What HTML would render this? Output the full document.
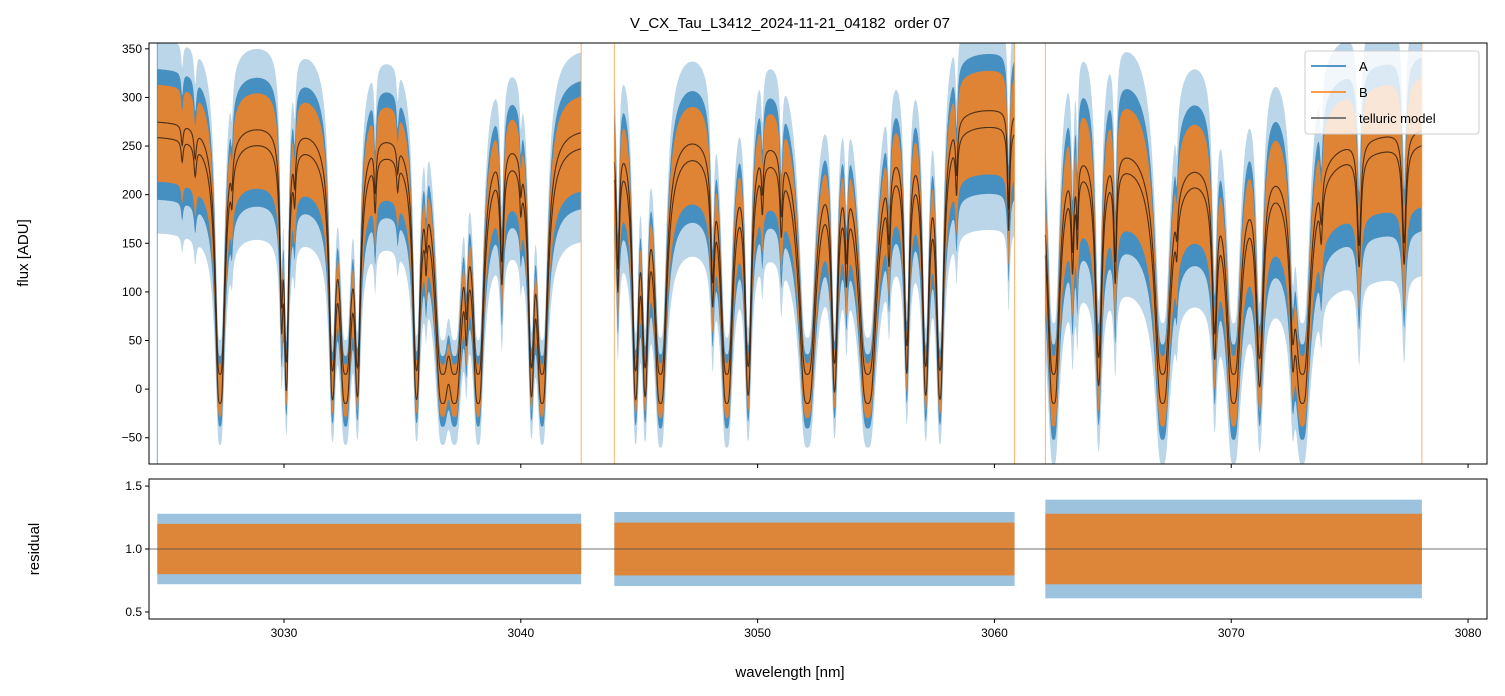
<!DOCTYPE html>
<html><head><meta charset="utf-8">
<style>
body{margin:0;background:#fff;}
svg{display:block;font-family:"Liberation Sans","DejaVu Sans",sans-serif;}
</style></head>
<body>
<svg id="chart" width="1505" height="696" viewBox="0 0 1505 696">
<defs>
<clipPath id="clipTop"><rect x="149" y="43" width="1338" height="421"/></clipPath>
<clipPath id="clipBot"><rect x="149" y="479" width="1338" height="140"/></clipPath>
</defs>
<text x="790" y="28" text-anchor="middle" font-size="15" style="white-space:pre">V_CX_Tau_L3412_2024-11-21_04182  order 07</text>
<g id="topG" clip-path="url(#clipTop)"></g>
<g id="botG" clip-path="url(#clipBot)"></g>
<g id="axes"></g>
<text transform="translate(28,253) rotate(-90)" text-anchor="middle" font-size="15">flux [ADU]</text>
<text transform="translate(39,549) rotate(-90)" text-anchor="middle" font-size="15">residual</text>
<text x="790" y="677" text-anchor="middle" font-size="15">wavelength [nm]</text>
<g>
<rect x="1305" y="51" width="174" height="83" rx="3" fill="#fff" fill-opacity="0.8" stroke="#ccc"/>
<line x1="1311" y1="66" x2="1346" y2="66" stroke="#1f77b4" stroke-width="1.5"/>
<text x="1359" y="71" font-size="13">A</text>
<line x1="1311" y1="92" x2="1346" y2="92" stroke="#ff7f0e" stroke-width="1.5"/>
<text x="1359" y="97" font-size="13">B</text>
<line x1="1311" y1="118" x2="1346" y2="118" stroke="#555" stroke-width="1.5"/>
<text x="1359" y="123" font-size="13">telluric model</text>
</g>
</svg>
<script>
// ---- data ----
const segStarts = [3024.65, 3043.95, 3062.15];
const segEnds   = [3042.55, 3060.85, 3078.05];
const segNoise  = [1.0, 1.05, 1.35];
const contNm  = [3024.6, 3042.6, 3044.0, 3055.0, 3058.3, 3060.9, 3062.0, 3066.0, 3070.0, 3078.1];
const contVal = [262, 262, 262, 262, 280, 280, 245, 245, 232, 255];
const lineCenters = [3025.7,3026.25,3027.3,3027.8,3029.9,3030.1,3030.45,3032.05,3032.6,3033.1,3033.85,3034.8,3035.6,3036.0,3036.7,3037.2,3037.7,3038.2,3039.2,3040.0,3040.45,3040.9,
 3044.1,3044.85,3045.25,3045.9,3048.1,3048.7,3049.6,3050.2,3051.0,3052.1,3053.25,3053.75,3054.65,3055.55,3056.3,3057.1,3057.7,3058.4,3060.6,
 3062.5,3063.3,3063.5,3064.4,3065.1,3067.1,3067.7,3069.3,3070.1,3071.2,3072.6,3073.0,3073.8,3075.4,3077.3];
const lineMins = [240,230,-15,225,80,0,215,-10,-15,-5,205,230,-10,190,-15,-15,105,-15,125,220,-5,-15,
 110,-10,-5,-15,110,-15,-5,210,185,-15,0,150,-15,165,20,-5,-10,220,170,
 -15,140,170,5,120,-15,190,40,-15,5,50,-15,185,130,130];
const lineWidths = [0.05,0.06,0.08,0.05,0.06,0.06,0.05,0.07,0.10,0.07,0.05,0.05,0.08,0.05,0.12,0.12,0.06,0.09,0.07,0.05,0.07,0.09,
 0.06,0.07,0.07,0.10,0.07,0.10,0.08,0.05,0.06,0.14,0.08,0.06,0.15,0.06,0.08,0.08,0.08,0.05,0.05,
 0.10,0.06,0.04,0.09,0.06,0.13,0.05,0.08,0.12,0.10,0.08,0.13,0.06,0.08,0.08];
const xTicks = [3030,3040,3050,3060,3070,3080];
const yTicksTop = [-50,0,50,100,150,200,250,300,350];
const yTicksBot = [0.5,1.0,1.5];
const residHalf = [0.2, 0.21, 0.28];

// ---- axes ----
const X0=149,X1=1487, XMIN=3024.3, XMAX=3080.8;
const TY0=43,TY1=464, TMIN=-77, TMAX=356;
const BY0=479,BY1=619, BMIN=0.444, BMAX=1.556;
const xs = v => X0 + (v-XMIN)/(XMAX-XMIN)*(X1-X0);
const yt = v => TY1 - (v-TMIN)/(TMAX-TMIN)*(TY1-TY0);
const yb = v => BY1 - (v-BMIN)/(BMAX-BMIN)*(BY1-BY0);
const NS="http://www.w3.org/2000/svg";
function mk(tag, attrs, parent){const e=document.createElementNS(NS,tag);for(const k in attrs)e.setAttribute(k,attrs[k]);parent.appendChild(e);return e;}

function cont(x){
  for(let i=0;i<contNm.length-1;i++){
    if(x<=contNm[i+1]){const t=(x-contNm[i])/(contNm[i+1]-contNm[i]);return contVal[i]+t*(contVal[i+1]-contVal[i]);}
  }
  return contVal[contVal.length-1];
}
function tau(x){
  let s=0;
  for(let i=0;i<lineCenters.length;i++){
    const C=cont(lineCenters[i]);
    const t0=Math.min(7,-Math.log(Math.max(lineMins[i]+15,0.3)/(C+15)));
    const d=(x-lineCenters[i])/lineWidths[i];
    s+=t0/(1+d*d);
  }
  return s;
}
function modelLow(x){return -15+(cont(x)+15)*Math.exp(-tau(x));}
function modelHigh(x){return 15+(cont(x)*1.06-15)*Math.exp(-tau(x));}

const topG=document.getElementById('topG'), botG=document.getElementById('botG'), axes=document.getElementById('axes');

function band(seg, scale, color, opacity, name){
  const up=[],lo=[];
  for(let x=segStarts[seg];x<=segEnds[seg];x+=0.01){
    const m=(modelLow(x)+modelHigh(x))/2;
    const hw=(25+0.08*Math.max(m,0))*segNoise[seg]*scale;
    up.push(xs(x).toFixed(1)+','+yt(m+hw).toFixed(1));
    lo.push(xs(x).toFixed(1)+','+yt(m-hw*1.15).toFixed(1));
  }
  const p=mk('polygon',{points:up.concat(lo.reverse()).join(' '),fill:color,'fill-opacity':opacity},topG);
  
  
}
function modelLine(seg, fn, name){
  const pts=[];
  for(let x=segStarts[seg];x<=segEnds[seg];x+=0.01) pts.push(xs(x).toFixed(1)+','+yt(fn(x)).toFixed(1));
  const p=mk('polyline',{points:pts.join(' '),fill:'none',stroke:'#2a1a10','stroke-opacity':0.8,'stroke-width':1.1},topG);
  
  
}
for(let s=0;s<3;s++){
  band(s,2.0,'#1f77b4',0.3,'series-a-noise-outer');
  band(s,1.35,'#1f77b4',0.75,'series-a-flux');
  band(s,1.0,'#e8832c',0.95,'series-b-flux');
  modelLine(s,modelHigh,'telluric-model-b');
  modelLine(s,modelLow,'telluric-model-a');
  const x0=xs(segStarts[s]), x1=xs(segEnds[s]);
  const rA=mk('rect',{x:x0,y:yb(1+residHalf[s]*1.4),width:x1-x0,height:yb(1-residHalf[s]*1.4)-yb(1+residHalf[s]*1.4),fill:'#4a8fc2','fill-opacity':0.55},botG);
  
  
  const rB=mk('rect',{x:x0,y:yb(1+residHalf[s]),width:x1-x0,height:yb(1-residHalf[s])-yb(1+residHalf[s]),fill:'#e0832f','fill-opacity':0.95},botG);
  
  
  const e1=mk('line',{x1:x0,x2:x0,y1:TY0,y2:TY1,stroke:s==0?'#1f77b4':'#ff7f0e','stroke-width':1,'stroke-opacity':0.6},topG);
  
  
  const e2=mk('line',{x1:x1,x2:x1,y1:TY0,y2:TY1,stroke:'#ff7f0e','stroke-width':1,'stroke-opacity':0.6},topG);
  
  
}
const hl=mk('line',{x1:X0,x2:X1,y1:yb(1),y2:yb(1),stroke:'#444','stroke-width':0.8},botG);



const f1=mk('rect',{x:X0,y:TY0,width:X1-X0,height:TY1-TY0,fill:'none',stroke:'#000','stroke-width':1},axes);


const f2=mk('rect',{x:X0,y:BY0,width:X1-X0,height:BY1-BY0,fill:'none',stroke:'#000','stroke-width':1},axes);


xTicks.forEach(v=>{
  const x=xs(v);
  const t1=mk('line',{x1:x,x2:x,y1:TY1,y2:TY1+4,stroke:'#000'},axes);
  
  
  const t2=mk('line',{x1:x,x2:x,y1:BY1,y2:BY1+4,stroke:'#000'},axes);
  
  
  const l=mk('text',{x:x,y:BY1+18,'text-anchor':'middle','font-size':12},axes);
  l.textContent=v;
  
  
});
yTicksTop.forEach(v=>{
  const y=yt(v);
  const t=mk('line',{x1:X0-4,x2:X0,y1:y,y2:y,stroke:'#000'},axes);
  
  
  const l=mk('text',{x:X0-7,y:y+4,'text-anchor':'end','font-size':12},axes);
  l.textContent=v<0?'\u2212'+(-v):v;
  
  
});
yTicksBot.forEach(v=>{
  const y=yb(v);
  const t=mk('line',{x1:X0-4,x2:X0,y1:y,y2:y,stroke:'#000'},axes);
  
  
  const l=mk('text',{x:X0-7,y:y+4,'text-anchor':'end','font-size':12},axes);
  l.textContent=v.toFixed(1);
  
  
});
</script>
</body></html>
